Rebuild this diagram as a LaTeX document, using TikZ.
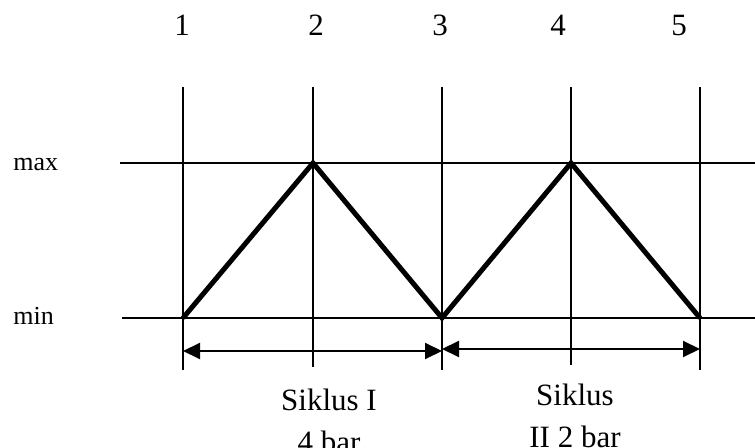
\documentclass[tikz,border=0pt]{standalone}
\usepackage{fontspec}
\setmainfont{Liberation Serif}
\usetikzlibrary{arrows.meta}

\begin{document}
\begin{tikzpicture}[x=0.5pt,y=-0.5pt,>={Triangle[length=8.5pt,width=8pt]}]
\useasboundingbox (0,0) rectangle (755,448);
\clip (0,0) rectangle (755,448);
\tikzset{grid/.style={line width=1pt},
  big/.style={font=\fontsize{15.5}{21}\selectfont,inner sep=0pt}}
% grid points
\coordinate (T1) at (183,87);  \coordinate (B1) at (183,370);
\coordinate (T2) at (313,87);  \coordinate (B2) at (313,367);
\coordinate (T3) at (442,87);  \coordinate (B3) at (442,370);
\coordinate (T4) at (571,87);  \coordinate (B4) at (571,365);
\coordinate (T5) at (700,87);  \coordinate (B5) at (700,370);
\coordinate (HL) at (120,163); \coordinate (HR) at (755,163);
\coordinate (LL) at (122,318); \coordinate (LR) at (755,318);
\coordinate (P1) at (183,318); \coordinate (Q2) at (313,163);
\coordinate (P3) at (442,318); \coordinate (Q4) at (571,163);
\coordinate (P5) at (700,318);
\coordinate (A1) at (183,351); \coordinate (A3) at (442,351);
\coordinate (C3) at (442,349); \coordinate (C5) at (700,349);
\draw[grid] (T1) -- (B1);
\draw[grid] (T2) -- (B2);
\draw[grid] (T3) -- (B3);
\draw[grid] (T4) -- (B4);
\draw[grid] (T5) -- (B5);
\draw[grid] (HL) -- (HR);
\draw[grid] (LL) -- (LR);
\draw[line width=2.5pt] (P1) -- (Q2) -- (P3) -- (Q4) -- (P5);
\draw[<->,grid] (A1) -- (A3);
\draw[<->,grid] (C3) -- (C5);
% labels
\node[big,anchor=base] (n1) at (182,36) {1};
\node[big,anchor=base] (n2) at (316,36) {2};
\node[big,anchor=base] (n3) at (440,36) {3};
\node[big,anchor=base] (n4) at (558,36) {4};
\node[big,anchor=base] (n5) at (679,36) {5};
\node[font=\fontsize{13}{15}\selectfont,inner sep=0pt,anchor=base west] (lmax) at (13,171) {max};
\node[font=\fontsize{13}{15}\selectfont,inner sep=0pt,anchor=base west] (lmin) at (13,325) {min};
\node[big,align=center,anchor=north] (cyc1) at (329,389) {Siklus I\\[0pt]4 bar};
\node[big,align=center,anchor=north] (cyc2) at (575,384) {Siklus\\[0pt]II 2 bar};
\end{tikzpicture}
\end{document}
